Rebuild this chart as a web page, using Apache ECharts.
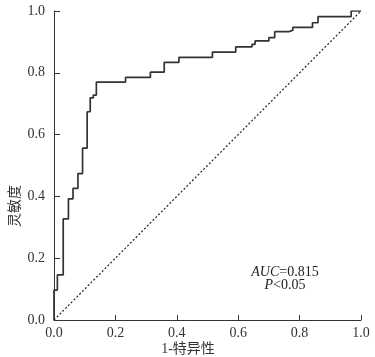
<!DOCTYPE html>
<html>
<head>
<meta charset="utf-8">
<script src="https://cdn.jsdelivr.net/npm/echarts@6/dist/echarts.min.js"></script>
<style>html,body{margin:0;padding:0;background:#fff;}#c{width:375px;height:357px;}</style>
</head>
<body>
<div id="c"></div>
<script>
// ROC curve vertices (1-specificity, sensitivity)
const fpr = [0, 0, 0.011, 0.030, 0.047, 0.062, 0.078, 0.093, 0.108, 0.118, 0.118, 0.128, 0.138,
             0.233, 0.314, 0.359, 0.407, 0.516, 0.592,
             0.645, 0.655, 0.700, 0.719, 0.765, 0.778, 0.842, 0.860, 0.968, 1.0];
const tpr = [0, 0.097, 0.146, 0.327, 0.392, 0.426, 0.474, 0.556, 0.674, 0.688, 0.719, 0.728, 0.770,
             0.785, 0.802, 0.834, 0.850, 0.867, 0.884,
             0.892, 0.903, 0.914, 0.933, 0.938, 0.947, 0.962, 0.982, 1.0, 1.0];
const refX = [0, 1];
const refY = [0, 1];
const xName = '1-特异性';
const yName = '灵敏度';
const aucText = 'AUC';
const aucVal = '=0.815';
const pText = 'P';
const pVal = '<0.05';

const serif = "'Liberation Serif', 'Times New Roman', 'Noto Sans CJK SC', serif";
const chart = echarts.init(document.getElementById('c'), null, {renderer: 'canvas'});
const axisCommon = {
  type: 'value', min: 0, max: 1, interval: 0.2,
  axisLine: {show: true, lineStyle: {color: '#333', width: 1}},
  splitLine: {show: false},
  axisLabel: {color: '#333', fontFamily: serif, fontSize: 14,
    formatter: v => v.toFixed(1)}
};
chart.setOption({
  animation: false,
  grid: {left: 54, right: 14, top: 11, bottom: 37, containLabel: false, outerBoundsMode: 'none'},
  xAxis: Object.assign({}, axisCommon, {
    axisTick: {inside: true, length: 5, lineStyle: {color: '#333'}},
    axisLabel: Object.assign({}, axisCommon.axisLabel, {margin: 6})
  }),
  yAxis: Object.assign({}, axisCommon, {
    axisTick: {inside: true, length: 6, lineStyle: {color: '#333'}},
    axisLabel: Object.assign({}, axisCommon.axisLabel, {margin: 9})
  }),
  series: [
    {
      type: 'line', data: refX.map((x, i) => [x, refY[i]]),
      symbol: 'none', lineStyle: {color: '#222', width: 1.2, type: [2, 2]}
    },
    {
      type: 'line', step: 'end', data: fpr.map((x, i) => [x, tpr[i]]),
      symbol: 'none', lineStyle: {color: '#333', width: 1.7}
    }
  ],
  graphic: [
    {type: 'text', x: 188, y: 349, style: {text: xName, font: '14px ' + serif, fill: '#333', align: 'center', verticalAlign: 'middle'}},
    {type: 'text', x: 15, y: 206, rotation: Math.PI / 2, style: {text: yName, font: '14px ' + serif, fill: '#333', align: 'center', verticalAlign: 'middle'}},
    {type: 'text', x: 285, y: 279, style: {
      text: '{i|' + aucText + '}{n|' + aucVal + '}\n{i|' + pText + '}{n|' + pVal + '}',
      align: 'center', verticalAlign: 'middle', lineHeight: 13,
      rich: {
        i: {fontFamily: serif, fontStyle: 'italic', fontSize: 14, fill: '#222', lineHeight: 13},
        n: {fontFamily: serif, fontSize: 14, fill: '#222', lineHeight: 13}
      }
    }}
  ]
});
</script>
</body>
</html>
